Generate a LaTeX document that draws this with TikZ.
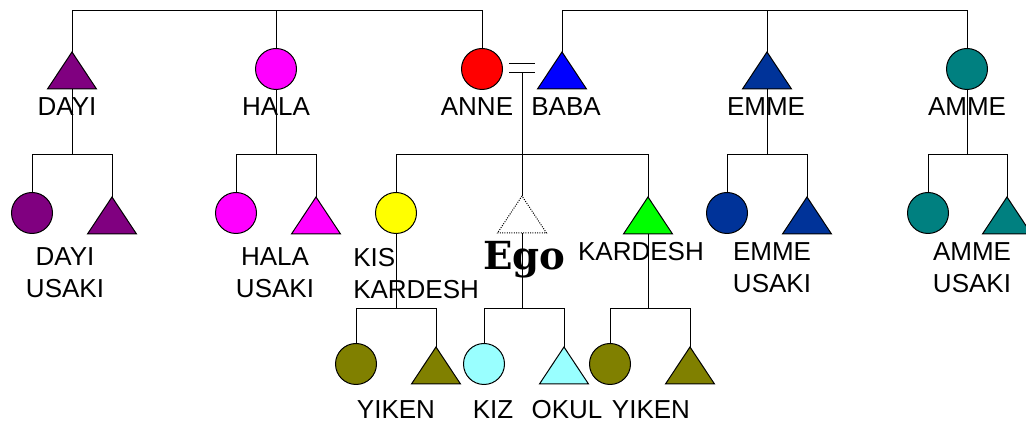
\documentclass[tikz,border=0pt]{standalone}
\usepackage{fontspec}
\setmainfont{Liberation Sans}
\newfontfamily\egofont{DejaVu Serif}
\usetikzlibrary{shapes.geometric,backgrounds}

\definecolor{cdayi}{RGB}{128,0,128}
\definecolor{chala}{RGB}{255,0,255}
\definecolor{canne}{RGB}{255,0,0}
\definecolor{cbaba}{RGB}{0,0,255}
\definecolor{cemme}{RGB}{0,51,153}
\definecolor{camme}{RGB}{0,128,128}
\definecolor{ckis}{RGB}{255,255,0}
\definecolor{ckardesh}{RGB}{0,255,0}
\definecolor{cyiken}{RGB}{128,128,0}
\definecolor{ccocuk}{RGB}{153,255,255}

\begin{document}
\begin{tikzpicture}[x=0.75pt, y=-0.75pt,
  kadin/.style={draw, circle, line width=0.75pt, minimum size=30.75pt, inner sep=0pt, outer sep=0pt},
  erkek/.style={draw, isosceles triangle, isosceles triangle stretches, shape border rotate=90,
    minimum width=36.75pt, minimum height=27.75pt, inner sep=0pt, outer sep=0pt, anchor=apex, line width=0.75pt},
  etiket/.style={inner sep=0pt, font=\fontsize{19.5}{24}\selectfont, align=center, anchor=north},
  bag/.style={line width=0.75pt}]

\useasboundingbox (0,0) rectangle (1026,423);

% ust kusak
\node[erkek, fill=cdayi] (dayi) at (72,52) {};
\node[kadin, fill=chala] (hala) at (276,69) {};
\node[kadin, fill=canne] (anne) at (482,69) {};
\node[erkek, fill=cbaba] (baba) at (562,52) {};
\node[erkek, fill=cemme] (emme) at (767,52) {};
\node[kadin, fill=camme] (amme) at (967,69) {};

\node[etiket] (tdayi) at (67,97) {DAYI};
\node[etiket] (thala) at (276,97) {HALA};
\node[etiket] (tanne) at (477,97) {ANNE};
\node[etiket] (tbaba) at (566,97) {BABA};
\node[etiket] (temme) at (766,97) {EMME};
\node[etiket] (tamme) at (967,97) {AMME};

\coordinate (mtop) at (482,11);
\coordinate (ptop) at (562,11);
\coordinate (nikah) at (522,73);
\coordinate (n1) at (509,64);
\coordinate (n2) at (535,64);
\coordinate (n3) at (509,73);
\coordinate (n4) at (535,73);
\draw[bag] (n1) -- (n2) (n3) -- (n4);

% ikinci kusak
\node[kadin, fill=cdayi] (dayik) at (32,213) {};
\node[erkek, fill=cdayi] (dayie) at (112,197) {};
\node[kadin, fill=chala] (halak) at (236,213) {};
\node[erkek, fill=chala] (halae) at (316,197) {};
\node[kadin, fill=ckis] (kis) at (396,213) {};
\node[erkek, fill=white, densely dotted] (ego) at (522,196) {};
\node[erkek, fill=ckardesh] (kardesh) at (648,197) {};
\node[kadin, fill=cemme] (emmek) at (727,213) {};
\node[erkek, fill=cemme] (emmee) at (807,197) {};
\node[kadin, fill=camme] (ammek) at (928,213) {};
\node[erkek, fill=camme] (ammee) at (1007,197) {};

\node[etiket] (tdayiu) at (65,247) {DAYI\\USAKI};
\node[etiket] (thalau) at (275,247) {HALA\\USAKI};
\node[etiket, align=left, anchor=north west] (tkis) at (353,248) {KIS\\KARDESH};
\node[inner sep=0pt, anchor=base west, font=\egofont\bfseries\fontsize{29}{32}\selectfont] (tego) at (483,270) {Ego};
\node[etiket] (tkardesh) at (641,242) {KARDESH};
\node[etiket] (temmeu) at (772,242) {EMME\\USAKI};
\node[etiket] (tammeu) at (972,242) {AMME\\USAKI};

\coordinate (h2) at (0,155);
\coordinate (h3) at (0,309);

% ucuncu kusak
\node[kadin, fill=cyiken] (kisk) at (356,364) {};
\node[erkek, fill=cyiken] (kise) at (436,347) {};
\node[kadin, fill=ccocuk] (kiz) at (484,364) {};
\node[erkek, fill=ccocuk] (okul) at (564,347) {};
\node[kadin, fill=cyiken] (kardk) at (610,364) {};
\node[erkek, fill=cyiken] (karde) at (690,347) {};

\node[etiket] (tyiken1) at (396,400) {YIKEN};
\node[etiket] (tkiz) at (493,400) {KIZ};
\node[etiket] (tokul) at (567,400) {OKUL};
\node[etiket] (tyiken2) at (651,400) {YIKEN};

\begin{scope}[on background layer]
\draw[bag] (dayi) |- (mtop) -- (anne);
\draw[bag] (hala) -- (hala |- mtop);
\draw[bag] (baba) -- (ptop) -| (amme);
\draw[bag] (emme) -- (emme |- ptop);

\draw[bag] (dayi) -- (dayi |- h2);
\draw[bag] (dayik) -- (dayik |- h2) -- (dayie |- h2) -- (dayie);
\draw[bag] (hala) -- (hala |- h2);
\draw[bag] (halak) -- (halak |- h2) -- (halae |- h2) -- (halae);
\draw[bag] (emme) -- (emme |- h2);
\draw[bag] (emmek) -- (emmek |- h2) -- (emmee |- h2) -- (emmee);
\draw[bag] (amme) -- (amme |- h2);
\draw[bag] (ammek) -- (ammek |- h2) -- (ammee |- h2) -- (ammee);

\draw[bag] (nikah) -- (ego) -- (ego |- h3);
\draw[bag] (kis) -- (kis |- h2) -- (kardesh |- h2) -- (kardesh);

\draw[bag] (kis) -- (kis |- h3);
\draw[bag] (kisk) -- (kisk |- h3) -- (kise |- h3) -- (kise);
\draw[bag] (kiz) -- (kiz |- h3) -- (okul |- h3) -- (okul);
\draw[bag] (kardesh) -- (kardesh |- h3);
\draw[bag] (kardk) -- (kardk |- h3) -- (karde |- h3) -- (karde);
\end{scope}

\end{tikzpicture}
\end{document}
